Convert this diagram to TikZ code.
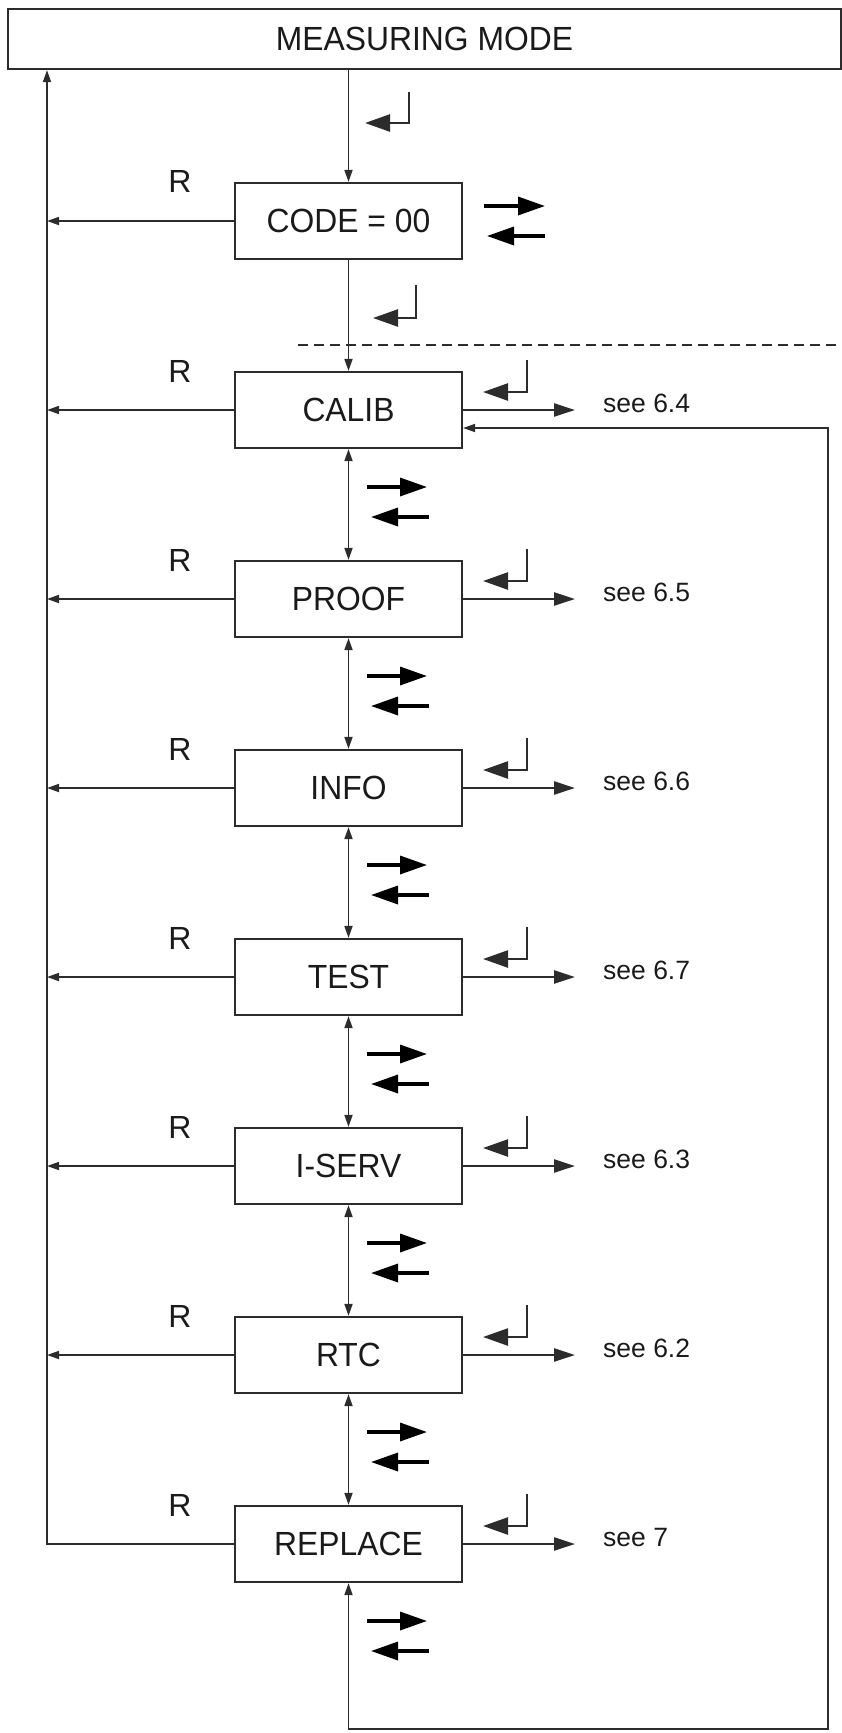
\documentclass[tikz,border=0pt]{standalone}
\usepackage{fontspec}
\setmainfont{Liberation Sans}
\newfontfamily\narrowsf[FakeStretch=0.95]{Liberation Sans}
\usepackage{tikz}
\usetikzlibrary{arrows.meta}
\definecolor{ink}{HTML}{2C2C2C}
\definecolor{txt}{HTML}{1A1A1A}

\begin{document}
\begin{tikzpicture}[x=1pt,y=-1pt,
  box/.style={draw=ink,line width=2.2pt,minimum width=227pt,minimum height=76pt,inner sep=0pt,text=txt,font=\narrowsf\fontsize{33.5}{40}\selectfont},
  flow/.style={draw=ink,line width=1.7pt,-{Triangle[length=12pt,width=8pt]}},
  twoway/.style={flow,{Triangle[length=12pt,width=8pt]}-{Triangle[length=12pt,width=8pt]}},
  exit/.style={draw=ink,line width=2.4pt,-{Triangle[length=21pt,width=13pt]}},
  nextarr/.style={draw=black,line width=3.4pt,-{Triangle[length=27pt,width=18pt]}},
  prevarr/.style={draw=black,line width=3.4pt,{Triangle[length=27pt,width=18pt]}-},
  hint/.style={draw=ink,line width=2.5pt,-{Triangle[length=25pt,width=17pt]}},
  rlab/.style={text=txt,font=\fontsize{32}{36}\selectfont},
  see/.style={anchor=base west,inner xsep=28pt,inner ysep=0pt,text=txt,font=\fontsize{26.5}{30}\selectfont}]
  \useasboundingbox (0,0) rectangle (842,1733);

  \node[box,minimum width=833pt,minimum height=60pt] (mode) at (424.5,39) {MEASURING MODE};
  \node[box] (code) at (348.5,221) {CODE = 00};
  \node[box] (calib) at (348.5,410) {CALIB};
  \node[box] (proof) at (348.5,599) {PROOF};
  \node[box] (info) at (348.5,788) {INFO};
  \node[box] (test) at (348.5,977) {TEST};
  \node[box] (iserv) at (348.5,1166) {I-SERV};
  \node[box] (rtc) at (348.5,1355) {RTC};
  \node[box] (replace) at (348.5,1544) {REPLACE};

  % main chain
  \draw[flow] (code.north |- mode.south) -- (code.north);
  \draw[flow] (code) -- (calib);
  \draw[twoway] (calib) -- (proof);
  \draw[twoway] (proof) -- (info);
  \draw[twoway] (info) -- (test);
  \draw[twoway] (test) -- (iserv);
  \draw[twoway] (iserv) -- (rtc);
  \draw[twoway] (rtc) -- (replace);
  \coordinate (corner) at (828,1729);
  \draw[twoway] (replace.south) |- (corner) |- ([yshift=-18pt]calib.east);
  \draw[ink,line width=1.5pt,dash pattern=on 10pt off 6pt] (298,345) -- (842,345);

  % R exits to the left rail
  \coordinate (rail) at (47,0);
  \draw[flow] (code.west) -- (code.west -| rail);
  \draw[flow] (calib.west) -- (calib.west -| rail);
  \draw[flow] (proof.west) -- (proof.west -| rail);
  \draw[flow] (info.west) -- (info.west -| rail);
  \draw[flow] (test.west) -- (test.west -| rail);
  \draw[flow] (iserv.west) -- (iserv.west -| rail);
  \draw[flow] (rtc.west) -- (rtc.west -| rail);
  \draw[flow] (replace.west) -| (rail |- mode.south);
  \node[rlab] (rcode) at (180,181) {R};
  \node[rlab] (rcalib) at (180,371) {R};
  \node[rlab] (rproof) at (180,560) {R};
  \node[rlab] (rinfo) at (180,749) {R};
  \node[rlab] (rtest) at (180,938) {R};
  \node[rlab] (riserv) at (180,1127) {R};
  \node[rlab] (rrtc) at (180,1316) {R};
  \node[rlab] (rreplace) at (180,1505) {R};

  % enter exits to the right
  \node[see] (s64) at (575,412) {see 6.4};
  \node[see] (s65) at (575,601) {see 6.5};
  \node[see] (s66) at (575,790) {see 6.6};
  \node[see] (s67) at (575,979) {see 6.7};
  \node[see] (s63) at (575,1168) {see 6.3};
  \node[see] (s62) at (575,1357) {see 6.2};
  \node[see] (s7) at (575,1546) {see 7};
  \draw[exit] (calib.east) -- (calib.east -| s64.west);
  \draw[exit] (proof.east) -- (proof.east -| s65.west);
  \draw[exit] (info.east) -- (info.east -| s66.west);
  \draw[exit] (test.east) -- (test.east -| s67.west);
  \draw[exit] (iserv.east) -- (iserv.east -| s63.west);
  \draw[exit] (rtc.east) -- (rtc.east -| s62.west);
  \draw[exit] (replace.east) -- (replace.east -| s7.west);

  % enter key marks
  \draw[hint] (409,92) |- (365,123);
  \draw[hint] (416,285) |- (373,318);
  \draw[hint] (527,360) |- (483,392);
  \draw[hint] (527,549) |- (483,581);
  \draw[hint] (527,738) |- (483,770);
  \draw[hint] (527,927) |- (483,959);
  \draw[hint] (527,1116) |- (483,1148);
  \draw[hint] (527,1305) |- (483,1337);
  \draw[hint] (527,1494) |- (483,1526);

  % arrow key marks
  \draw[nextarr] (484,206) -- (545,206);
  \draw[prevarr] (487,236) -- (545,236);
  \draw[nextarr] (367,487) -- (427,487);
  \draw[prevarr] (371,517) -- (429,517);
  \draw[nextarr] (367,676) -- (427,676);
  \draw[prevarr] (371,706) -- (429,706);
  \draw[nextarr] (367,865) -- (427,865);
  \draw[prevarr] (371,895) -- (429,895);
  \draw[nextarr] (367,1054) -- (427,1054);
  \draw[prevarr] (371,1084) -- (429,1084);
  \draw[nextarr] (367,1243) -- (427,1243);
  \draw[prevarr] (371,1273) -- (429,1273);
  \draw[nextarr] (367,1432) -- (427,1432);
  \draw[prevarr] (371,1462) -- (429,1462);
  \draw[nextarr] (367,1621) -- (427,1621);
  \draw[prevarr] (371,1651) -- (429,1651);
\end{tikzpicture}
\end{document}
